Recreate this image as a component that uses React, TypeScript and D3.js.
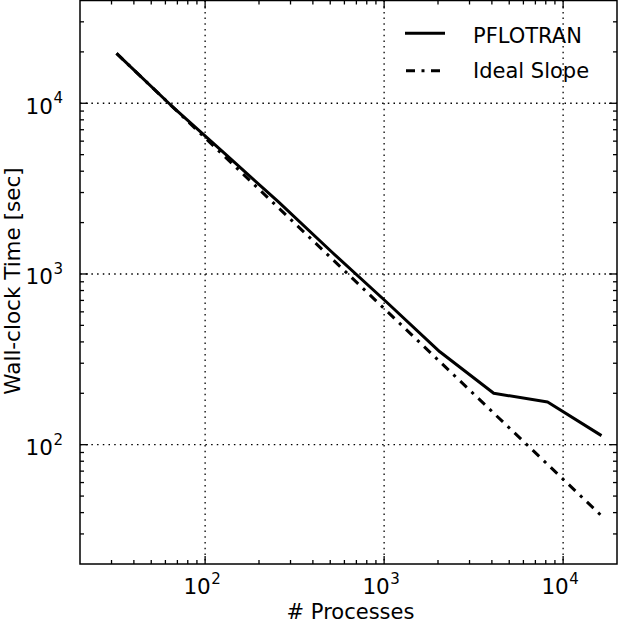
import React from "react";
import * as d3 from "d3";

const processes = [32, 64, 128, 256, 512, 1024, 2048, 4096, 8192, 16384];
const pflotranTime = [19600, 9800, 5100, 2650, 1340, 690, 350, 200, 178, 113];
const idealTime = [19600, 9800, 4900, 2450, 1225, 612.5, 306.25, 153.1, 76.6, 38.3];
const xMajor = [100, 1000, 10000];
const yMajor = [100, 1000, 10000];
const xExp = ["2", "3", "4"];
const yExp = ["2", "3", "4"];
const legendLabels = ["PFLOTRAN", "Ideal Slope"];

const W = 618;
const H = 623;
const L = 80, R = 617, T = 0.5, B = 564;
const FONT = "DejaVu Sans, sans-serif";

export default function App() {
  const x = d3.scaleLog().domain([20, 20000]).range([L, R]);
  const y = d3.scaleLog().domain([20, 40000]).range([B, T]);

  const line = d3
    .line<number>()
    .x((_, i) => x(processes[i]))
    .y((v) => y(v));

  const xMinor: number[] = [];
  for (let e = 1; e <= 4; e++) {
    for (let m = 2; m <= 9; m++) {
      const v = m * Math.pow(10, e);
      if (v > 20 && v < 20000) xMinor.push(v);
    }
  }
  const yMinor: number[] = [];
  for (let e = 1; e <= 4; e++) {
    for (let m = 2; m <= 9; m++) {
      const v = m * Math.pow(10, e);
      if (v > 20 && v < 40000) yMinor.push(v);
    }
  }

  const majLen = 8;
  const minLen = 4;

  return (
    <svg
      width={W}
      height={H}
      style={{ position: "absolute", left: 0, top: 0, background: "#fff" }}
      fontFamily={FONT}
    >
      <rect x={0} y={0} width={W} height={H} fill="#fff" />
      {/* grid */}
      <g stroke="#000" strokeWidth={1.3} strokeDasharray="1.5,4.2">
        {xMajor.map((v) => (
          <line key={"gx" + v} x1={x(v)} x2={x(v)} y1={T} y2={B} />
        ))}
        {yMajor.map((v) => (
          <line key={"gy" + v} x1={L} x2={R} y1={y(v)} y2={y(v)} />
        ))}
      </g>
      {/* data */}
      <path
        d={line(idealTime) || ""}
        fill="none"
        stroke="#000"
        strokeWidth={3}
        strokeDasharray="9,6.5,3,6.5"
      />
      <path
        d={line(pflotranTime) || ""}
        fill="none"
        stroke="#000"
        strokeWidth={3}
        strokeLinejoin="round"
      />
      {/* ticks */}
      <g stroke="#000" strokeWidth={1.3}>
        {xMajor.map((v) => (
          <g key={"tx" + v}>
            <line x1={x(v)} x2={x(v)} y1={B} y2={B - majLen} />
            <line x1={x(v)} x2={x(v)} y1={T} y2={T + majLen} />
          </g>
        ))}
        {xMinor.map((v) => (
          <g key={"mx" + v}>
            <line x1={x(v)} x2={x(v)} y1={B} y2={B - minLen} />
            <line x1={x(v)} x2={x(v)} y1={T} y2={T + minLen} />
          </g>
        ))}
        {yMajor.map((v) => (
          <g key={"ty" + v}>
            <line x1={L} x2={L + majLen} y1={y(v)} y2={y(v)} />
            <line x1={R} x2={R - majLen} y1={y(v)} y2={y(v)} />
          </g>
        ))}
        {yMinor.map((v) => (
          <g key={"my" + v}>
            <line x1={L} x2={L + minLen} y1={y(v)} y2={y(v)} />
            <line x1={R} x2={R - minLen} y1={y(v)} y2={y(v)} />
          </g>
        ))}
      </g>
      {/* spines */}
      <rect
        x={L}
        y={T}
        width={R - L}
        height={B - T}
        fill="none"
        stroke="#000"
        strokeWidth={1.5}
      />
      {/* x tick labels */}
      {xMajor.map((v, i) => (
        <text key={"lx" + v} x={x(v) - 3} y={594} fontSize={21.5} textAnchor="middle" fill="#000">
          10
          <tspan dx={0.5} dy={-10.5} fontSize={15}>
            {xExp[i]}
          </tspan>
        </text>
      ))}
      {/* y tick labels */}
      {yMajor.map((v, i) => (
        <text key={"ly" + v} x={63} y={y(v) + 10.5} fontSize={21.5} textAnchor="end" fill="#000">
          10
          <tspan dx={0.5} dy={-10.5} fontSize={15}>
            {yExp[i]}
          </tspan>
        </text>
      ))}
      {/* axis labels */}
      <text x={(L + R) / 2 + 2} y={618.5} fontSize={21} textAnchor="middle" fill="#000">
        # Processes
      </text>
      <text
        transform={`translate(20,281) rotate(-90)`}
        fontSize={21.5}
        textAnchor="middle"
        fill="#000"
      >
        Wall-clock Time [sec]
      </text>
      {/* legend */}
      <line x1={405} x2={445} y1={33.3} y2={33.3} stroke="#000" strokeWidth={3} />
      <line
        x1={406}
        x2={446}
        y1={70.7}
        y2={70.7}
        stroke="#000"
        strokeWidth={3}
        strokeDasharray="9,6.5,3,6.5"
      />
      <text x={473} y={42.7} fontSize={21} fill="#000">
        {legendLabels[0]}
      </text>
      <text x={473} y={77.5} fontSize={21} fill="#000">
        {legendLabels[1]}
      </text>
    </svg>
  );
}
